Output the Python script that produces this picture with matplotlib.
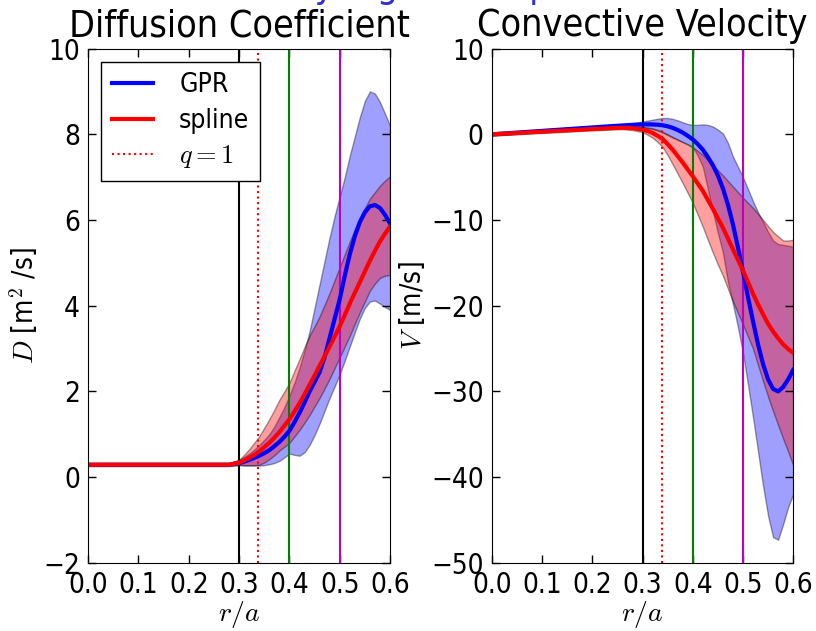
import numpy as np
import matplotlib.pyplot as plt

plt.rcParams['font.family'] = 'DejaVu Sans'
plt.rcParams['font.stretch'] = 'condensed'
plt.rcParams['mathtext.fontset'] = 'cm'

r = [0.00, 0.02, 0.04, 0.06, 0.08, 0.10, 0.12, 0.14, 0.16, 0.18,
     0.20, 0.22, 0.24, 0.26, 0.28,
     0.30, 0.31, 0.32, 0.33, 0.34, 0.35, 0.36, 0.37, 0.38, 0.39,
     0.40, 0.41, 0.42, 0.43, 0.44, 0.45, 0.46, 0.47, 0.48, 0.49,
     0.50, 0.51, 0.52, 0.53, 0.54, 0.55, 0.56, 0.57, 0.58, 0.59, 0.60]

# diffusion coefficient D [m^2/s]
D_gpr = [0.29]*15 + [0.33, 0.36, 0.40, 0.45, 0.50, 0.56, 0.63, 0.72, 0.82, 0.94,
                     1.08, 1.28, 1.50, 1.74, 2.00, 2.22, 2.45, 2.80, 3.25, 3.70,
                     4.15, 4.70, 5.20, 5.62, 5.95, 6.18, 6.32, 6.35, 6.28, 6.12, 5.92]
D_gpr_lo = [0.26]*15 + [0.28, 0.27, 0.27, 0.27, 0.27, 0.28, 0.30, 0.33, 0.38, 0.46,
                        0.55, 0.52, 0.50, 0.58, 0.75, 0.98, 1.25, 1.55, 1.85, 2.12,
                        2.40, 2.72, 3.05, 3.38, 3.70, 3.95, 4.10, 4.12, 4.05, 3.97, 3.90]
D_gpr_hi = [0.32]*15 + [0.40, 0.47, 0.55, 0.64, 0.75, 0.87, 1.00, 1.18, 1.40, 1.63,
                        1.90, 2.20, 2.55, 2.95, 3.40, 3.95, 4.50, 5.05, 5.60, 6.10,
                        6.55, 7.00, 7.50, 7.95, 8.40, 8.78, 9.00, 8.95, 8.75, 8.48, 8.20]
D_spl = [0.29]*15 + [0.34, 0.39, 0.45, 0.52, 0.60, 0.70, 0.80, 0.92, 1.05, 1.20,
                     1.35, 1.53, 1.72, 1.93, 2.15, 2.37, 2.60, 2.82, 3.05, 3.28,
                     3.52, 3.78, 4.05, 4.30, 4.55, 4.80, 5.05, 5.28, 5.50, 5.68, 5.85]
D_spl_lo = [0.26]*15 + [0.29, 0.28, 0.28, 0.28, 0.29, 0.34, 0.42, 0.51, 0.62, 0.71,
                        0.80, 0.95, 1.10, 1.27, 1.45, 1.65, 1.85, 2.07, 2.30, 2.55,
                        2.80, 3.05, 3.30, 3.58, 3.85, 4.10, 4.35, 4.52, 4.65, 4.70, 4.72]
D_spl_hi = [0.32]*15 + [0.40, 0.52, 0.65, 0.80, 0.95, 1.15, 1.35, 1.57, 1.80, 2.00,
                        2.20, 2.48, 2.75, 3.03, 3.30, 3.52, 3.75, 4.02, 4.30, 4.60,
                        4.90, 5.20, 5.50, 5.78, 6.05, 6.28, 6.50, 6.65, 6.80, 6.92, 7.02]

# convective velocity V [m/s]
V_gpr = [0.00, 0.08, 0.16, 0.24, 0.32, 0.40, 0.48, 0.56, 0.64, 0.72,
         0.80, 0.88, 0.96, 1.03, 1.10,
         1.15, 1.16, 1.15, 1.11, 1.05, 0.93, 0.75, 0.50, 0.20, -0.18,
         -0.60, -1.15, -1.80, -2.65, -3.60, -4.80, -6.30, -8.20, -10.5, -13.2,
         -16.0, -19.0, -21.8, -24.5, -26.8, -28.6, -29.7, -30.0, -29.5, -28.6, -27.5]
V_gpr_lo = [-0.15, -0.07, 0.01, 0.09, 0.17, 0.25, 0.33, 0.41, 0.49, 0.57,
            0.65, 0.73, 0.81, 0.88, 0.90,
            0.80, 0.70, 0.60, 0.42, 0.20, -0.10, -0.40, -0.65, -0.90, -1.15,
            -1.50, -2.50, -3.80, -6.40, -9.00, -11.5, -13.8, -17.2, -19.8, -22.5,
            -25.5, -29.2, -33.0, -37.0, -41.0, -44.5, -47.0, -47.3, -45.5, -43.5, -42.0]
V_gpr_hi = [0.15, 0.23, 0.31, 0.39, 0.47, 0.55, 0.63, 0.71, 0.79, 0.87,
            0.95, 1.03, 1.11, 1.18, 1.30,
            1.50, 1.60, 1.70, 1.82, 1.90, 1.90, 1.80, 1.62, 1.40, 1.20,
            1.10, 1.10, 1.15, 1.10, 0.90, 0.55, 0.10, -1.00, -2.60, -3.80,
            -5.00, -6.40, -7.80, -9.10, -10.2, -11.4, -12.4, -12.8, -12.9, -13.0, -13.1]
V_spl = [0.00, 0.06, 0.12, 0.18, 0.25, 0.31, 0.37, 0.43, 0.49, 0.55,
         0.61, 0.66, 0.72, 0.76, 0.72,
         0.55, 0.38, 0.15, -0.18, -0.55, -1.15, -1.80, -2.55, -3.30, -4.10,
         -4.90, -5.75, -6.60, -7.65, -8.70, -9.80, -10.9, -12.15, -13.4, -14.65,
         -15.9, -17.25, -18.6, -19.85, -21.0, -22.1, -23.0, -23.8, -24.5, -25.05, -25.5]
V_spl_lo = [-0.15, -0.09, -0.03, 0.03, 0.10, 0.16, 0.22, 0.28, 0.34, 0.40,
            0.46, 0.51, 0.57, 0.60, 0.50,
            0.25, -0.05, -0.40, -0.90, -1.50, -2.45, -3.50, -4.60, -5.70, -6.85,
            -8.00, -9.40, -10.8, -12.3, -13.8, -15.2, -16.5, -18.0, -19.5, -20.85,
            -22.2, -23.6, -25.0, -26.9, -28.8, -30.6, -32.3, -33.9, -35.5, -37.0, -38.6]
V_spl_hi = [0.15, 0.21, 0.27, 0.33, 0.40, 0.46, 0.52, 0.58, 0.64, 0.70,
            0.76, 0.81, 0.87, 0.92, 0.92,
            0.85, 0.80, 0.70, 0.52, 0.30, 0.00, -0.30, -0.60, -0.90, -1.20,
            -1.50, -1.95, -2.40, -3.00, -3.60, -4.20, -4.80, -5.45, -6.10, -6.75,
            -7.40, -8.00, -8.60, -9.30, -10.0, -10.7, -11.4, -11.9, -12.4, -12.4, -12.3]

r_sawtooth = 0.30
r_q1 = 0.338
r_green = 0.40
r_magenta = 0.50

fig = plt.figure(figsize=(8.16, 6.31), dpi=100)
ax1 = fig.add_axes([0.108, 0.108, 0.370, 0.815])
ax2 = fig.add_axes([0.603, 0.108, 0.369, 0.815])

panels = [
    (ax1, D_gpr, D_gpr_lo, D_gpr_hi, D_spl, D_spl_lo, D_spl_hi),
    (ax2, V_gpr, V_gpr_lo, V_gpr_hi, V_spl, V_spl_lo, V_spl_hi),
]
for ax, g, glo, ghi, s, slo, shi in panels:
    ax.fill_between(r, glo, ghi, facecolor='b', edgecolor='k', alpha=0.375, lw=1)
    ax.fill_between(r, slo, shi, facecolor='r', edgecolor='k', alpha=0.375, lw=1)
    ax.axvline(r_sawtooth, color='k', lw=1.5)
    ax.axvline(r_q1, color='r', ls=':', lw=1.5, label='$q=1$')
    ax.axvline(r_green, color='g', lw=1.5)
    ax.axvline(r_magenta, color='m', lw=1.5)
    ax.plot(r, g, color='b', lw=3, label='GPR')
    ax.plot(r, s, color='r', lw=3, label='spline')
    ax.set_xlim(0, 0.6)
    ax.set_xticks([0.0, 0.1, 0.2, 0.3, 0.4, 0.5, 0.6])
    ax.set_xticklabels(['0.0', '0.1', '0.2', '0.3', '0.4', '0.5', '0.6'])
    ax.tick_params(direction='in', top=True, right=True, labelsize=20,
                   length=6, width=1, pad=6)
    ax.set_xlabel('$r/a$', fontsize=20, labelpad=0)

ax1.set_ylim(-2, 10)
ax1.set_yticks([-2, 0, 2, 4, 6, 8, 10])
ax1.set_yticklabels(['\u22122', '0', '2', '4', '6', '8', '10'])
ax1.set_ylabel('$D$ [m$^2$ /s]', fontsize=20, labelpad=2)
ax1.set_title('Diffusion Coefficient', fontsize=27, pad=9)

ax2.set_ylim(-50, 10)
ax2.set_yticks([-50, -40, -30, -20, -10, 0, 10])
ax2.set_yticklabels(['\u221250', '\u221240', '\u221230', '\u221220', '\u221210', '0', '10'])
ax2.set_ylabel('$V$ [m/s]', fontsize=20, labelpad=3)
ax2.set_title('Convective Velocity', fontsize=27, pad=9)

h, l = ax1.get_legend_handles_labels()
order = [l.index('GPR'), l.index('spline'), l.index('$q=1$')]
leg = ax1.legend([h[i] for i in order], [l[i] for i in order], loc='upper left',
                 fontsize=19, fancybox=False, framealpha=1, edgecolor='k',
                 handlelength=1.55, handletextpad=1.0, borderpad=0.4,
                 labelspacing=0.36, borderaxespad=0.5)
leg.get_frame().set_linewidth(1)

# suptitle that sits mostly above the canvas edge
fig.text(0.42, 1.0055, 'Model driven by a gradient pinch', color='#3030d0',
         fontsize=27, ha='center', va='baseline')

plt.savefig('out.png', dpi=100)
